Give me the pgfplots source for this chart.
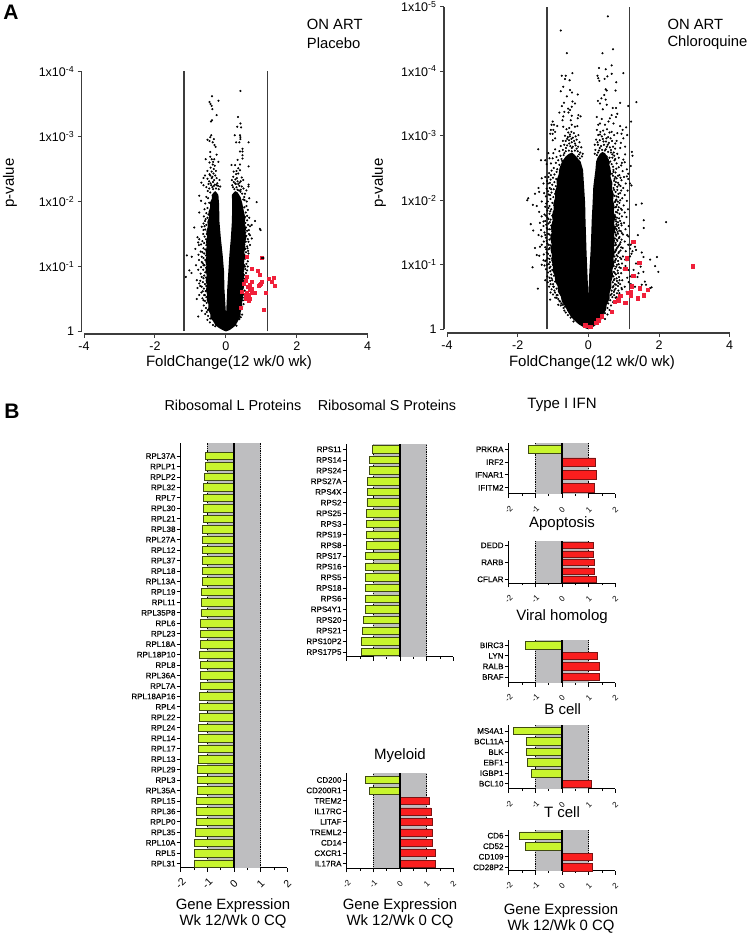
\documentclass[border=0pt]{standalone}
\usepackage{pgfplots}
\pgfplotsset{compat=1.18}
\usepackage{fontspec}
\setmainfont{Liberation Sans}
\newfontfamily\lblfont[FakeBold=0.25]{Liberation Sans}
\definecolor{bandgray}{HTML}{BEBEC0}
\definecolor{limeb}{HTML}{C8F52D}
\definecolor{limed}{HTML}{3F4A12}
\definecolor{redb}{HTML}{FA1E1E}
\definecolor{redd}{HTML}{7A1414}
\definecolor{volred}{HTML}{F0203A}
\definecolor{axgray}{HTML}{3C3C3C}
\newcommand\fsz[1]{\fontsize{#1}{#1}\selectfont}
\pgfplotsset{
 volc/.style={scale only axis,axis x line=bottom,axis y line=left,axis line style={-,line width=1.2pt,color=axgray},
  xmin=-4,xmax=4,ymin=0,clip=false,tick align=outside,major tick length=4pt,
  every tick/.style={line width=1pt,color=axgray},
  xtick={-4,-2,0,2,4},xticklabels={-4,-2,0,2,4},
  tick label style={font=\fsz{12.5}}},
 bp/.style={scale only axis,width=106.6pt,axis x line=bottom,axis y line=left,axis line style={-,line width=1pt,color=black},
  xmin=-2,xmax=2,clip=false,tick align=outside,major tick length=4pt,minor tick length=2.2pt,
  every tick/.style={line width=.9pt,color=black},
  xtick={-2,-1,0,1,2},xticklabels={-2,-1,0,1,2},minor x tick num=1,
  yticklabel style={font=\lblfont\fsz{8},inner xsep=1pt},
  xticklabel style={font=\fsz{8},anchor=center,yshift=-11.5pt,rotate=45}},
 gb/.style={xbar,bar shift=0pt,fill=limeb,draw=limed,line width=.8pt,forget plot},
 rb/.style={xbar,bar shift=0pt,fill=redb,draw=redd,line width=.5pt,forget plot},
}
\newcommand\band[2]{\addplot[fill=bandgray,draw=none,forget plot] coordinates {(-1,#1)(1,#1)(1,#2)(-1,#2)} -- cycle;
 \addplot[black,densely dotted,line width=.8pt,forget plot] coordinates {(-1,#1)(-1,#2)};
 \addplot[black,densely dotted,line width=.8pt,forget plot] coordinates {(1,#1)(1,#2)};}
\newcommand\zero[2]{\addplot[black,line width=1.5pt,forget plot] coordinates {(0,#1)(0,#2)};}
\newcommand\tx[4]{\node[font=\fsz{#3},align=center,inner sep=0pt] at (#1pt,{(935-#2)*1pt}) {#4};}
\begin{document}
\begin{tikzpicture}
\useasboundingbox (0pt,0pt) rectangle (750pt,935pt);
% ---------- Volcano 1
\begin{axis}[volc,at={(84pt,603.5pt)},anchor=south west,width=283.7pt,height=260pt,ymax=4,
 axis x line shift=2.5pt,axis y line shift=2.3pt,
 ytick={0,1,2,3,4},yticklabels={1,1x10\textsuperscript{-1},1x10\textsuperscript{-2},1x10\textsuperscript{-3},1x10\textsuperscript{-4}}]
\addplot[fill=black,draw=none] coordinates {(0,0)(-.12,.03)(-.21,.06)(-.30,.10)(-.36,.16)(-.43,.20)(-.44,.27)(-.50,.33)(-.49,.42)(-.54,.48)(-.53,.57)(-.56,.63)(-.54,.72)(-.57,.78)(-.54,.86)(-.57,.94)(-.55,1.02)(-.58,1.08)(-.55,1.15)(-.57,1.23)(-.54,1.31)(-.56,1.38)(-.53,1.46)(-.55,1.54)(-.51,1.61)(-.52,1.69)(-.47,1.76)(-.49,1.84)(-.44,1.91)(-.45,1.98)(-.39,2.05)(-.40,2.10)(-.34,2.14)(-.30,2.16)(-.26,2.14)(-.21,2.10)(-.19,1.95)(-.18,1.69)(-.14,1.43)(-.09,1.18)(-.05,.92)(-.04,.66)(0,.3)(.01,.3)(.04,.66)(.07,.92)(.10,1.18)(.14,1.43)(.17,1.69)(.18,1.95)(.17,2.10)(.21,2.13)(.27,2.16)(.33,2.14)(.38,2.10)(.42,2.06)(.46,1.98)(.49,1.90)(.52,1.82)(.55,1.74)(.53,1.67)(.57,1.59)(.55,1.52)(.58,1.44)(.54,1.37)(.55,1.29)(.52,1.22)(.54,1.15)(.51,1.07)(.53,.99)(.50,.92)(.52,.85)(.49,.77)(.51,.70)(.48,.62)(.49,.54)(.46,.46)(.46,.38)(.42,.30)(.41,.23)(.33,.15)(.27,.09)(.18,.05)(.10,.02)} -- cycle;
\addplot[only marks,mark=*,mark size=.85pt,black] coordinates {
(-.39,3.62)(-.21,3.55)(-.46,3.53)(-.43,3.50)(-.40,3.47)(-.38,3.42)(-.26,3.33)(-.39,3.25)(-.42,3.23)(.41,3.70)(.34,3.30)(.41,3.20)(.32,3.15)(.43,3.14)(.25,3.02)(.40,3.02)(.41,2.99)(.41,2.96)(.29,2.91)(.38,2.91)(.64,2.91)(-.41,3.02)(-.44,2.99)(-.34,2.96)(-.52,2.95)(-.46,2.93)(-.37,2.91)(-.32,2.87)(-.29,2.84)(-.44,2.76)(.47,2.81)(.40,2.77)(.47,2.77)(.47,2.71)(.47,2.66)(.33,2.64)(-.26,2.72)(-.57,2.65)(-.44,2.69)(-.40,2.65)(-.33,2.65)(-.21,2.61)(-.46,2.60)(-.37,2.57)(-.31,2.55)(.16,2.56)(.26,2.56)(.40,2.57)(.64,2.54)(.35,2.51)(.40,2.48)(-.52,2.47)(-.40,2.46)(-.28,2.47)(-.59,2.40)(-.46,2.42)(-.35,2.43)(-.30,2.40)(-.63,2.36)(-.52,2.35)(-.40,2.36)(-.26,2.36)(-.18,2.33)(.29,2.42)(.35,2.43)(.21,2.38)(.31,2.36)(.45,2.37)(.17,2.33)(.42,2.31)(.49,2.33)(.26,2.28)(.35,2.27)(.64,2.26)(.64,2.23)(.18,2.25)(.45,2.23)(-.69,2.29)(-.63,2.25)(-.16,2.23)(-.75,2.09)(-.70,2.01)(.66,2.05)(.59,2.00)(.87,1.99)(.54,2.12)
(-.47,2.31)(-.43,2.28)(-.36,2.30)(-.31,2.26)(-.24,2.28)(-.55,2.22)(-.47,2.20)(-.38,2.22)(-.28,2.20)(-.20,2.19)(.22,2.30)(.30,2.22)(.38,2.24)(.24,2.19)(.33,2.18)(.42,2.18)(.50,2.20)(.58,2.17)
(-.33,2.33)(-.44,2.40)(-.38,2.38)(-.49,2.27)(-.41,2.25)(-.34,2.24)(-.22,2.24)(-.51,2.16)(-.44,2.14)(-.36,2.19)(-.26,2.25)(.20,2.22)(.27,2.34)(.33,2.31)(.39,2.29)(.28,2.27)(.41,2.15)(.46,2.12)(.37,2.17)(.52,2.07)(.49,2.03)(.22,2.46)(.30,2.47)(-.34,2.50)(-.43,2.52)(-.36,2.61)
(-.75,1.83)(-.89,1.60)(-.68,1.61)(-.63,1.66)(-.59,1.70)(-.63,1.56)(-.80,1.45)(-.75,1.42)(-.66,1.39)(-.70,1.34)(-.78,1.37)(-.86,1.27)(-.76,1.33)(-.71,1.23)(-.77,1.18)(-1.10,1.17)(-.96,1.15)(-.76,1.10)(-.84,1.02)(-.68,1.07)(-1.03,.94)(-.97,.90)(-1.13,.84)(-.63,1.02)(-.78,.95)(-.71,.89)(-.82,.79)(-.75,.74)(-.63,.82)(-.80,.67)(-.68,.69)(-.65,.62)(-.75,.56)(-.82,.50)(-.63,.48)(-.59,.56)(-.68,.32)(-.78,.23)(-.45,.14)(-.54,.30)
(.82,1.70)(.65,1.56)(.96,1.58)(.98,1.56)(.73,1.64)(.68,1.48)(.73,1.43)(.64,1.38)(.68,1.33)(.61,1.28)(.64,1.20)(.57,1.15)(.62,1.08)(1.01,1.13)(.54,1.00)
% left fringe
(-.55,2.07)(-.50,2.05)(-.58,1.97)(-.52,1.90)(-.47,1.98)(-.60,1.88)(-.55,1.82)(-.49,1.80)(-.62,1.77)(-.57,1.73)(-.52,1.75)(-.60,1.62)(-.55,1.64)(-.58,1.57)(-.54,1.50)(-.60,1.46)(-.64,1.50)(-.56,1.42)(-.61,1.36)(-.55,1.33)(-.63,1.28)(-.58,1.26)(-.66,1.22)(-.61,1.20)(-.56,1.17)(-.68,1.15)(-.63,1.13)(-.58,1.10)(-.65,1.05)(-.60,1.02)(-.56,.98)(-.70,.99)(-.64,.95)(-.58,.91)(-.68,.84)(-.61,.86)(-.56,.83)(-.72,.78)(-.65,.76)(-.59,.73)(-.55,.70)(-.72,.70)(-.62,.66)(-.57,.62)(-.69,.60)(-.61,.56)(-.55,.53)(-.66,.51)(-.59,.47)(-.54,.44)(-.62,.40)(-.56,.36)(-.51,.33)(-.58,.27)(-.50,.24)(-.44,.20)(-.52,.18)(-.36,.10)(-.30,.08)
% right fringe
(.53,2.02)(.58,1.93)(.52,1.91)(.62,1.87)(.56,1.83)(.60,1.78)(.54,1.76)(.66,1.75)(.60,1.71)(.55,1.67)(.63,1.64)(.57,1.60)(.68,1.62)(.60,1.55)(.55,1.52)(.65,1.50)(.58,1.47)(.53,1.44)(.62,1.42)(.56,1.38)(.52,1.34)(.60,1.31)(.55,1.27)(.50,1.25)(.63,1.24)(.57,1.22)(.52,1.18)(.60,1.13)(.54,1.12)(.49,1.08)(.58,1.04)(.52,1.02)(.62,1.00)(.55,.96)(.49,.93)(.57,.90)(.51,.87)(.60,.94)(.54,.81)(.49,.78)(.52,.72)(.48,.67)(.53,.63)(.49,.57)(.52,.52)(.48,.48)(.50,.42)(.46,.38)(.42,.22)(.38,.19)(.46,.26)(.30,.09)
};
\addplot[only marks,mark=square*,mark size=1.5pt,volred,mark options={draw=volred}] coordinates {
(1.01,1.13)(.73,.96)(.89,.93)(.95,.88)(.59,1.15)(.59,.85)(.57,.78)(1.22,.81)(1.34,.82)(1.28,.77)(1.37,.70)(1.01,.77)(.95,.72)(.98,.74)(.92,.70)(.73,.76)(.68,.72)(.73,.66)(.61,.69)(.66,.64)(.59,.60)(.73,.59)(.80,.59)(.64,.56)(.68,.51)(.57,.57)(1.13,.60)(1.08,.33)(.42,.36)(.45,.61)(.51,.74)(.64,.48)(.78,.60)(.55,.50)
};
\addplot[only marks,mark=*,mark size=.85pt,black] coordinates {(1.02,1.13)(1.06,1.13)};
\addplot[axgray,line width=1.2pt] coordinates {(-1.18,0)(-1.18,4)};
\addplot[axgray,line width=1.2pt] coordinates {(1.17,0)(1.17,4)};
\end{axis}
% ---------- Volcano 2
\begin{axis}[volc,at={(447pt,605.7pt)},anchor=south west,width=282.7pt,height=322.6pt,ymax=5,
 axis x line shift=3.7pt,axis y line shift=3pt,
 ytick={0,1,2,3,4,5},yticklabels={1,1x10\textsuperscript{-1},1x10\textsuperscript{-2},1x10\textsuperscript{-3},1x10\textsuperscript{-4},1x10\textsuperscript{-5}}]
\addplot[fill=black,draw=none] coordinates {(0,0)(-.10,.02)(-.19,.05)(-.28,.08)(-.42,.15)(-.50,.20)(-.60,.29)(-.65,.35)(-.75,.43)(-.78,.51)(-.86,.58)(-.87,.67)(-.94,.74)(-.95,.83)(-1.01,.90)(-1.00,.99)(-1.05,1.07)(-1.03,1.15)(-1.07,1.23)(-1.04,1.32)(-1.08,1.41)(-1.04,1.50)(-1.06,1.59)(-1.01,1.68)(-1.03,1.77)(-.98,1.86)(-.99,1.95)(-.94,2.04)(-.95,2.13)(-.89,2.22)(-.90,2.31)(-.84,2.40)(-.82,2.49)(-.76,2.58)(-.72,2.62)(-.64,2.68)(-.55,2.72)(-.46,2.74)(-.38,2.70)(-.32,2.66)(-.22,2.60)(-.15,2.47)(-.12,2.21)(-.09,1.95)(-.08,1.69)(-.065,1.44)(-.05,1.18)(-.03,.92)(-.01,.66)(0,.50)(.01,.66)(.03,.92)(.06,1.18)(.08,1.44)(.095,1.69)(.12,1.95)(.14,2.21)(.20,2.47)(.22,2.60)(.26,2.66)(.33,2.72)(.40,2.75)(.47,2.73)(.53,2.68)(.58,2.63)(.60,2.54)(.64,2.45)(.63,2.36)(.68,2.27)(.67,2.18)(.72,2.09)(.70,2.00)(.74,1.91)(.72,1.82)(.76,1.73)(.73,1.64)(.76,1.55)(.73,1.46)(.75,1.37)(.72,1.28)(.75,1.19)(.71,1.10)(.73,1.01)(.68,.92)(.70,.83)(.65,.74)(.65,.65)(.60,.56)(.60,.47)(.52,.38)(.50,.30)(.40,.21)(.36,.14)(.24,.08)(.12,.03)} -- cycle;
\addplot[only marks,mark=*,mark size=.85pt,black] coordinates {
(.55,4.85)(-.78,4.63)(-.61,4.28)(.40,4.28)(.70,4.34)(.66,4.09)(.30,4.05)(.49,4.03)(.99,3.97)(.66,3.96)(-.45,3.97)(-.75,3.93)(-.64,3.93)(-.66,3.88)(-.53,3.86)(.26,3.93)(.28,3.89)(.31,3.85)(.46,3.88)(.54,3.92)(.79,3.83)(-.71,3.76)(-.78,3.69)(-.52,3.71)(-.46,3.67)(-.30,3.64)(.49,3.72)(.52,3.70)(.77,3.70)(-.61,3.61)(.27,3.54)(.37,3.58)(.45,3.63)(.49,3.56)(.33,3.50)(.90,3.51)(1.36,3.52)(1.13,3.46)(-.45,3.53)(-.38,3.50)(-.69,3.51)(-.75,3.46)(-.57,3.42)(-.47,3.45)(-.82,3.36)(-.68,3.37)(-.52,3.40)(-.56,3.36)(.52,3.48)(.41,3.41)(.69,3.43)(.78,3.43)(.66,3.32)(.82,3.34)(.78,3.29)(.24,3.29)(.38,3.26)(.61,3.27)(1.21,3.22)(-.28,3.32)(-.22,3.30)(-.30,3.27)(-.47,3.31)(-.50,3.24)(-.71,3.30)(-.73,3.24)(-1.01,3.22)(-1.04,3.17)(-.97,3.17)(-.88,3.15)(-.71,3.14)(-.47,3.17)(-.54,3.12)(-.38,3.14)(-.31,3.15)(.28,3.17)(.33,3.19)(.47,3.17)(.57,3.22)(.71,3.19)(1.07,3.13)(.97,3.09)(.90,3.15)(-1.06,3.09)(-.99,3.09)(-1.08,3.03)(-1.01,3.03)(-.94,3.06)(-.94,2.96)(-1.01,2.93)(1.10,3.01)(.99,2.96)(.82,3.04)(.94,3.03)(.66,3.06)(.73,3.01)(.80,2.92)(.92,2.89)(1.04,2.83)(.90,2.81)(.76,2.88)(-1.42,2.79)(-1.34,2.62)(-1.22,2.62)(-1.13,2.73)(-.99,2.73)(-1.10,2.65)(-1.01,2.65)(-.94,2.79)(-.90,2.67)(-1.18,2.56)(-1.06,2.57)(1.23,2.75)(1.25,2.69)(1.20,2.53)(.99,2.63)(.95,2.58)(1.04,2.71)
% upper lobes
(-.62,3.10)(-.57,3.05)(-.48,3.06)(-.41,3.04)(-.66,3.00)(-.58,2.98)(-.52,2.99)(-.44,2.97)(-.36,2.99)(-.28,3.01)(-.72,2.92)(-.64,2.92)(-.55,2.93)(-.47,2.90)(-.40,2.92)(-.33,2.94)(-.25,2.90)(-.78,2.84)(-.68,2.86)(-.60,2.85)(-.51,2.84)(-.44,2.83)(-.36,2.85)(-.29,2.83)(-.20,2.82)(-.82,2.76)(-.72,2.78)(-.64,2.76)(-.55,2.77)(-.47,2.76)(-.38,2.77)(-.30,2.76)(-.23,2.74)(-.16,2.72)(-.79,2.69)(-.70,2.70)(-.30,2.68)(-.18,2.68)(-.85,2.62)(-.76,2.64)(-.82,2.55)(-.88,2.48)
(.24,3.09)(.34,3.06)(.42,3.08)(.53,3.10)(.60,3.05)(.28,3.01)(.38,2.99)(.46,3.02)(.56,2.98)(.63,2.96)(.22,2.94)(.32,2.93)(.41,2.95)(.50,2.91)(.58,2.89)(.67,2.92)(.18,2.86)(.27,2.86)(.36,2.84)(.44,2.86)(.52,2.83)(.61,2.82)(.70,2.83)(.76,2.80)(.20,2.78)(.30,2.77)(.39,2.78)(.47,2.77)(.56,2.75)(.64,2.74)(.72,2.74)(.82,2.72)(.18,2.72)(.24,2.70)(.52,2.68)(.60,2.66)(.68,2.66)(.76,2.64)(.86,2.66)(.58,2.58)(.66,2.56)(.60,2.50)
(-.52,3.02)(-.60,2.95)(-.48,2.95)(-.38,2.88)(-.54,2.88)(-.63,2.81)(-.47,2.81)(-.33,2.80)(-.68,2.73)(-.26,2.71)(-.74,2.61)(-.24,2.65)
(.33,3.02)(.51,2.96)(.26,2.90)(.43,2.91)(.55,2.86)(.32,2.81)(.64,2.78)(.49,2.79)(.68,2.71)(.27,2.74)(.73,2.69)(.62,2.60)(.70,2.52)(.67,2.41)(.74,2.33)(.71,2.44)
% left fringe
(-.92,2.58)(-.98,2.50)(-.90,2.44)(-1.04,2.46)(-.96,2.40)(-1.11,2.42)(-1.00,2.35)(-.91,2.33)(-1.07,2.32)(-.96,2.28)(-1.14,2.26)(-1.02,2.24)(-.92,2.22)(-1.09,2.19)(-.98,2.17)(-1.18,2.18)(-1.04,2.12)(-.94,2.10)(-1.12,2.09)(-.99,2.05)(-1.20,2.06)(-1.07,2.02)(-.93,2.00)(-1.15,1.98)(-1.02,1.96)(-.96,1.92)(-1.10,1.91)(-1.22,1.90)(-1.05,1.86)(-.98,1.82)(-1.16,1.84)(-1.10,1.79)(-1.24,1.78)(-1.02,1.76)(-1.16,1.73)(-1.07,1.70)(-1.00,1.66)(-1.22,1.68)(-1.13,1.64)(-1.05,1.61)(-1.27,1.60)(-1.18,1.57)(-1.09,1.55)(-1.02,1.52)(-1.24,1.50)(-1.14,1.48)(-1.05,1.45)(-1.20,1.42)(-1.10,1.39)(-1.03,1.35)(-1.26,1.36)(-1.16,1.33)(-1.07,1.30)(-1.22,1.27)(-1.12,1.24)(-1.03,1.20)(-1.18,1.19)(-1.26,1.16)(-1.08,1.14)(-1.02,1.10)(-1.15,1.10)(-1.22,1.06)(-1.09,1.04)(-1.01,1.00)(-1.17,1.00)(-1.10,.95)(-1.02,.92)(-1.20,.93)(-1.14,.88)(-1.05,.85)(-.97,.83)(-1.10,.80)(-1.02,.76)(-.94,.74)(-1.15,.73)(-1.07,.70)(-.98,.66)(-.90,.63)(-1.04,.62)(-.94,.57)(-.87,.53)(-1.00,.54)(-.90,.49)(-.82,.44)(-.76,.40)(-.70,.33)(-.64,.26)(-.85,.38)(-.58,.22)(-.50,.18)(-.42,.12)
(-1.13,2.36)(-1.06,2.39)(-1.17,2.30)(-1.09,2.27)(-1.05,2.17)(-1.14,2.14)(-1.08,2.08)(-1.19,1.95)(-1.13,1.88)(-1.08,1.83)(-1.20,1.76)(-1.13,1.71)(-1.09,1.66)(-1.19,1.62)(-1.15,1.55)(-1.10,1.47)(-1.22,1.46)(-1.18,1.37)(-1.12,1.31)(-1.09,1.26)(-1.19,1.24)(-1.14,1.17)(-1.10,1.09)(-1.19,1.07)(-1.12,1.01)(-1.07,.97)(-1.24,.99)(-1.08,.90)(-1.16,.82)(-1.08,.75)(-1.00,.70)(-1.11,.66)(-.96,.60)(-1.07,.57)(-.94,.49)(-.85,.47)(-.78,.37)(-.68,.29)
% right fringe
(.74,2.62)(.93,2.54)(.80,2.57)(1.03,2.59)(.71,2.47)(.86,2.51)(1.09,2.48)(.77,2.43)(.97,2.45)(.70,2.38)(.88,2.39)(1.01,2.36)(.80,2.34)(1.13,2.33)(.73,2.30)(.94,2.31)(.84,2.27)(1.06,2.26)(.75,2.24)(.91,2.22)(.71,2.19)(.99,2.19)(.82,2.16)(1.11,2.15)(.77,2.13)(.90,2.11)(.74,2.07)(1.03,2.08)(.85,2.05)(.96,2.03)(.79,2.01)(.75,1.97)(1.09,1.99)(.88,1.96)(.81,1.93)(1.00,1.92)(.76,1.89)(.92,1.87)(.84,1.85)(1.12,1.86)(.78,1.82)(1.03,1.81)(.88,1.79)(.75,1.77)(.95,1.75)(.81,1.73)(1.08,1.74)(.77,1.70)(.90,1.68)(.84,1.66)(1.01,1.65)(.79,1.63)(.94,1.61)(.76,1.59)(1.14,1.60)(.86,1.57)(.80,1.54)(1.05,1.55)(.92,1.52)(.76,1.50)(.84,1.48)(.98,1.47)(.79,1.45)(1.10,1.46)(.88,1.43)(.75,1.41)(.94,1.39)(.82,1.37)(1.03,1.36)(.77,1.34)(.89,1.32)(.75,1.30)(1.13,1.31)(.84,1.28)(.97,1.26)(.79,1.24)(.91,1.22)(.76,1.20)(1.06,1.21)(.85,1.18)(.80,1.15)(.98,1.13)(.74,1.13)(.90,1.11)(.78,1.09)(1.04,1.08)(.84,1.06)(.75,1.04)(.95,1.02)(.81,1.00)(.72,.98)(.88,.96)(.76,.94)(1.00,.93)(.83,.91)(.72,.89)(.93,.87)(.78,.85)(.71,.82)(.87,.81)(.74,.78)(.96,.76)(.81,.75)(.69,.73)(.75,.70)(.90,.70)(.84,.67)(.69,.65)(.77,.63)(.94,.64)(.66,.60)(.72,.58)(.81,.56)(.63,.53)(.68,.50)(.77,.49)(.62,.45)(.70,.42)(.56,.40)(.64,.37)(.54,.33)(.60,.30)(.47,.25)(.54,.23)(.41,.18)(.47,.16)(.31,.12)
(.79,2.49)(.84,2.38)(.76,2.36)(.91,2.35)(.78,2.28)(.87,2.24)(.82,2.21)(.73,2.16)(.93,2.15)(.85,2.10)(.80,2.06)(.77,1.99)(.90,2.00)(.83,1.98)(.79,1.90)(.86,1.89)(.95,1.85)(.82,1.81)(.77,1.74)(.87,1.72)(.79,1.67)(.85,1.62)(.93,1.64)(.81,1.60)(.78,1.56)(.88,1.53)(.83,1.51)(.95,1.49)(.78,1.47)(.86,1.41)(.80,1.39)(.91,1.35)(.78,1.31)(.86,1.30)(.81,1.26)(.93,1.27)(.78,1.22)(.87,1.20)(.83,1.13)(.93,1.09)(.76,1.07)(.86,1.01)(.79,.97)(.92,.95)(.84,.87)(.75,.87)(.80,.79)(.88,.76)(.72,.76)(.78,.69)(.85,.72)(.71,.67)(.74,.61)(.85,.60)(.66,.55)(.73,.53)
% outliers
(-1.73,2.00)(-1.70,2.03)(-1.51,2.10)(-1.41,2.19)(-1.32,2.34)(-1.22,2.36)(-1.27,2.26)(-1.39,2.13)(-1.25,2.11)(-1.57,1.93)(-1.46,1.91)(-1.39,1.82)(-1.32,1.98)(-1.32,1.75)(-1.63,1.63)(-1.56,1.53)(-1.37,1.65)(-1.27,1.67)(-1.34,1.54)(-1.32,1.44)(-1.41,1.46)(-1.37,1.28)(-1.51,1.26)(-1.32,1.31)(-1.46,1.15)(-1.39,1.14)(-1.27,1.07)(-1.32,1.00)(-1.58,.96)(-1.22,.76)(-1.43,.63)(-1.08,.46)(-1.04,.79)(-.99,.66)(-.72,.38)(-.66,.35)(-.90,.53)(-.80,.43)
(2.20,1.66)(1.35,1.93)(1.51,1.95)(1.57,1.69)(1.57,1.57)(1.40,1.46)(1.13,1.44)(1.20,1.31)(1.32,1.28)(1.35,1.23)(1.51,1.19)(1.56,1.12)(1.75,1.08)(1.94,1.12)(1.35,1.02)(1.48,.97)(1.89,.98)(1.98,.89)(1.56,.89)(1.42,.87)(1.60,.74)(1.39,.81)(1.79,.65)(1.75,.64)(1.51,.69)(1.63,.69)(1.32,.66)(1.18,2.26)(1.22,2.23)(1.13,2.41)(1.09,2.37)(1.18,1.13)(1.09,1.07)(1.28,.92)(1.18,.82)(1.13,.92)(1.05,.98)(1.14,.73)(1.25,1.21)(1.18,1.25)(1.22,1.17)(1.12,1.10)(1.10,.80)(1.03,.66)(.88,.56)(.95,.62)(.80,.50)(1.08,.58)(1.20,.70)
};
\addplot[only marks,mark=square*,mark size=1.7pt,volred,mark options={draw=volred}] coordinates {
(2.96,.98)(1.27,1.36)(1.08,1.10)(1.44,1.03)(1.04,.94)(1.27,.83)(1.46,.64)(1.68,.61)(1.56,.53)(1.40,.48)(1.20,.52)(1.13,.57)(1.20,.58)(1.04,.41)(.90,.52)(.85,.45)(.75,.43)(.66,.27)(1.23,.67)(.38,.20)(.28,.14)(.22,.10)(-.09,.065)(.05,.04)
};
\addplot[axgray,line width=1.2pt] coordinates {(-1.17,0)(-1.17,5)};
\addplot[axgray,line width=1.2pt] coordinates {(1.17,0)(1.17,5)};
\end{axis}
% ---------- RPL
\begin{axis}[bp,at={(180.7pt,67pt)},anchor=south west,height=425pt,ymin=.59,ymax=41.25,bar width=7.5pt,
 xticklabel style={font=\fsz{10.5}},
 ytick={1,...,40},yticklabels={RPL31,RPL5,RPL10A,RPL35,RPLP0,RPL36,RPL15,RPL35A,RPL3,RPL29,RPL13,RPL17,RPL14,RPL24,RPL22,RPL4,RPL18AP16,RPL7A,RPL36A,RPL8,RPL18P10,RPL18A,RPL23,RPL6,RPL35P8,RPL11,RPL19,RPL13A,RPL18,RPL37,RPL12,RPL27A,RPL38,RPL21,RPL30,RPL7,RPL32,RPLP2,RPLP1,RPL37A}]
\band{.59}{41.25}
\addplot[gb] coordinates {(-1.50,1)(-1.49,2)(-1.47,3)(-1.44,4)(-1.42,5)(-1.41,6)(-1.40,7)(-1.36,8)(-1.36,9)(-1.36,10)(-1.35,11)(-1.32,12)(-1.32,13)(-1.32,14)(-1.31,15)(-1.31,16)(-1.28,17)(-1.27,18)(-1.27,19)(-1.27,20)(-1.29,21)(-1.27,22)(-1.27,23)(-1.25,24)(-1.24,25)(-1.22,26)(-1.21,27)(-1.20,28)(-1.20,29)(-1.20,30)(-1.20,31)(-1.17,32)(-1.17,33)(-1.15,34)(-1.15,35)(-1.15,36)(-1.15,37)(-1.11,38)(-1.07,39)(-1.06,40)};
\zero{.59}{41.25}
\end{axis}
% ---------- RPS
\begin{axis}[bp,at={(346.7pt,278.3pt)},anchor=south west,height=212.4pt,ymin=.56,ymax=20.47,bar width=7.5pt,
 xticklabels={},
 ytick={1,...,20},yticklabels={RPS17P5,RPS10P2,RPS21,RPS20,RPS4Y1,RPS6,RPS18,RPS5,RPS16,RPS17,RPS8,RPS19,RPS3,RPS25,RPS2,RPS4X,RPS27A,RPS24,RPS14,RPS11}]
\band{.56}{20.47}
\addplot[gb] coordinates {(-1.46,1)(-1.44,2)(-1.40,3)(-1.36,4)(-1.31,5)(-1.31,6)(-1.29,7)(-1.29,8)(-1.29,9)(-1.28,10)(-1.25,11)(-1.25,12)(-1.25,13)(-1.25,14)(-1.24,15)(-1.21,16)(-1.21,17)(-1.13,18)(-1.13,19)(-1.05,20)};
\zero{.56}{20.47}
\end{axis}
% ---------- Myeloid
\begin{axis}[bp,at={(346.7pt,66.7pt)},anchor=south west,height=95pt,ymin=.56,ymax=9.64,bar width=7pt,
 ytick={1,...,9},yticklabels={IL17RA,CXCR1,CD14,TREML2,LITAF,IL17RC,TREM2,CD200R1,CD200}]
\band{.56}{9.64}
\addplot[rb] coordinates {(1.34,1)(1.34,2)(1.22,3)(1.20,4)(1.20,5)(1.16,6)(1.09,7)};
\addplot[gb] coordinates {(-1.13,8)(-1.29,9)};
\zero{.56}{9.64}
\end{axis}
% ---------- IFN
\begin{axis}[bp,at={(508.7pt,441pt)},anchor=south west,height=51.3pt,ymin=.51,ymax=4.52,bar width=8.5pt,
 ytick={1,...,4},yticklabels={IFITM2,IFNAR1,IRF2,PRKRA}]
\band{.51}{4.52}
\addplot[rb] coordinates {(1.22,1)(1.30,2)(1.26,3)};
\addplot[gb] coordinates {(-1.25,4)};
\zero{.51}{4.52}
\end{axis}
% ---------- Apoptosis
\begin{axis}[bp,at={(508.7pt,351.7pt)},anchor=south west,height=42.6pt,ymin=.53,ymax=5.54,bar width=6pt,
 ytick={1,3,5},yticklabels={CFLAR,RARB,DEDD}]
\band{.53}{5.54}
\addplot[rb] coordinates {(1.29,1)(1.21,2)(1.20,3)(1.19,4)(1.16,5)};
\zero{.53}{5.54}
\end{axis}
% ---------- Viral
\begin{axis}[bp,at={(508.7pt,252.3pt)},anchor=south west,height=42.7pt,ymin=.46,ymax=4.5,bar width=7.5pt,
 ytick={1,...,4},yticklabels={BRAF,RALB,LYN,BIRC3}]
\band{.46}{4.5}
\addplot[rb] coordinates {(1.38,1)(1.38,2)(1.34,3)};
\addplot[gb] coordinates {(-1.38,4)};
\zero{.46}{4.5}
\end{axis}
% ---------- B cell
\begin{axis}[bp,at={(508.7pt,146pt)},anchor=south west,height=63.7pt,ymin=.5,ymax=6.54,bar width=7.5pt,
 ytick={1,...,6},yticklabels={BCL10,IGBP1,EBF1,BLK,BCL11A,MS4A1}]
\band{.5}{6.54}
\addplot[rb] coordinates {(1.11,1)};
\addplot[gb] coordinates {(-1.14,2)(-1.29,3)(-1.34,4)(-1.34,5)(-1.83,6)};
\zero{.5}{6.54}
\end{axis}
% ---------- T cell
\begin{axis}[bp,at={(508.7pt,64.3pt)},anchor=south west,height=40.7pt,ymin=.68,ymax=4.54,bar width=7.5pt,
 ytick={1,...,4},yticklabels={CD28P2,CD109,CD52,CD6}]
\band{.68}{4.54}
\addplot[rb] coordinates {(1.15,1)(1.14,2)};
\addplot[gb] coordinates {(-1.36,3)(-1.58,4)};
\zero{.68}{4.54}
\end{axis}
% ---------- Text
\tx{11}{12}{21}{\bfseries A}
\tx{12}{411}{21}{\bfseries B}
\node[font=\fsz{14.8},anchor=west,inner sep=0pt] at (306.7pt,{(935-24)*1pt}) {ON ART};
\node[font=\fsz{14.8},anchor=west,inner sep=0pt] at (306.7pt,{(935-43)*1pt}) {Placebo};
\node[font=\fsz{14.8},anchor=west,inner sep=0pt] at (667.3pt,{(935-24)*1pt}) {ON ART};
\node[font=\fsz{14.8},anchor=west,inner sep=0pt] at (667.3pt,{(935-43)*1pt}) {Chloroquine};
\node[font=\fsz{15},rotate=90,inner sep=0pt] at (10pt,{(935-183)*1pt}) {p-value};
\node[font=\fsz{15},rotate=90,inner sep=0pt] at (379pt,{(935-183)*1pt}) {p-value};
\tx{229}{363}{15}{FoldChange(12 wk/0 wk)}
\tx{592}{363}{15}{FoldChange(12 wk/0 wk)}
\tx{233}{405.7}{14.4}{Ribosomal L Proteins}
\tx{387}{405.7}{14.4}{Ribosomal S Proteins}
\tx{562}{405}{15}{Type I IFN}
\tx{562}{524}{15}{Apoptosis}
\tx{562}{617}{15}{Viral homolog}
\tx{400}{756}{15}{Myeloid}
\tx{562.7}{709}{15}{B cell}
\tx{562}{812}{15}{T cell}
\tx{233}{906}{14.9}{Gene Expression}
\tx{233}{922}{14.9}{Wk 12/Wk 0 CQ}
\tx{400}{906}{14.9}{Gene Expression}
\tx{400}{922}{14.9}{Wk 12/Wk 0 CQ}
\tx{561}{911}{14.9}{Gene Expression}
\tx{561}{927}{14.9}{Wk 12/Wk 0 CQ}
\end{tikzpicture}
\end{document}
